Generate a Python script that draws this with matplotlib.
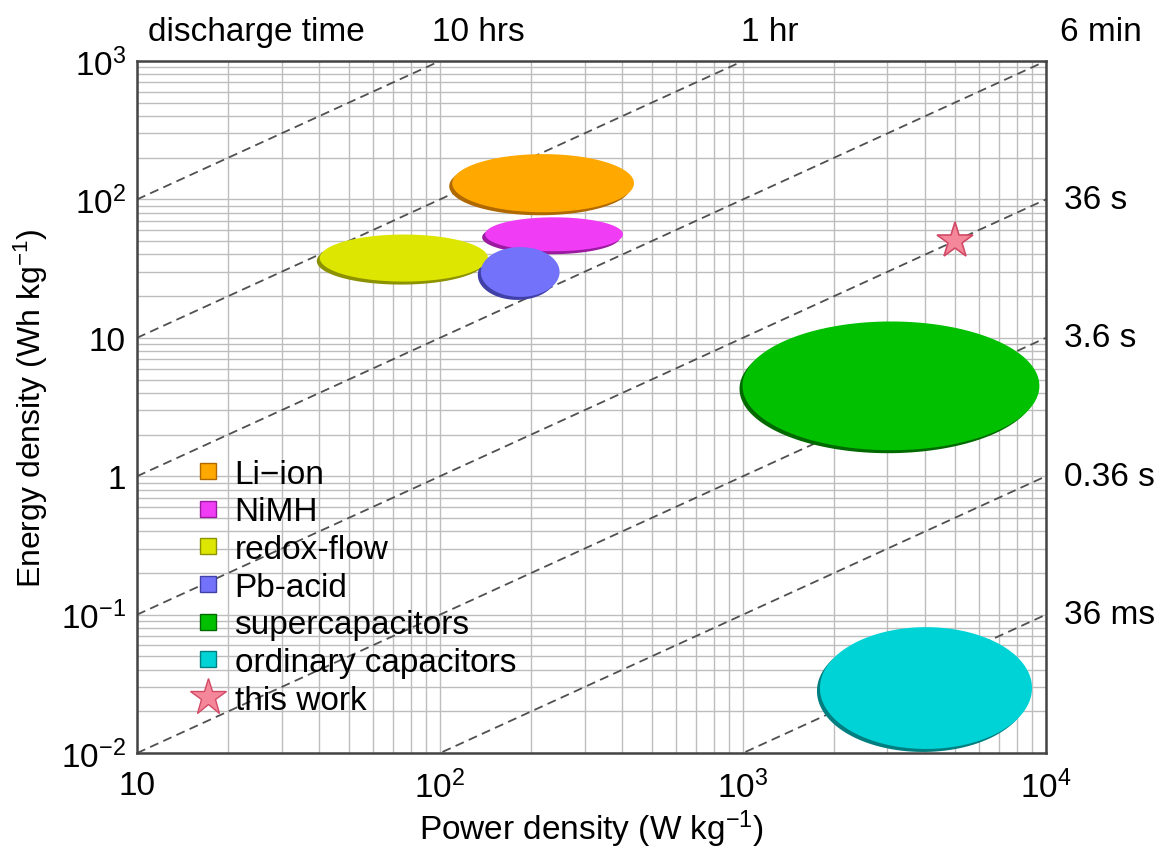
import numpy as np
import matplotlib
matplotlib.use("Agg")
import matplotlib.pyplot as plt
from matplotlib.lines import Line2D
from matplotlib.ticker import FixedLocator, FixedFormatter, LogLocator, NullFormatter

plt.rcParams["font.family"] = ["Liberation Sans", "DejaVu Sans"]
plt.rcParams["mathtext.fontset"] = "custom"
plt.rcParams["mathtext.rm"] = "Liberation Sans"
plt.rcParams["mathtext.it"] = "Liberation Sans"

# --- data (log-space ellipses) ---
tech_names = ["Li\u2212ion", "NiMH", "redox-flow", "Pb-acid", "supercapacitors", "ordinary capacitors"]
tech_colors = ["#FFA800", "#F03CF5", "#DDE600", "#7272FA", "#00C000", "#00D3D6"]
tech_shadow = ["#B06800", "#9A1AA0", "#8C9200", "#4040A8", "#006A00", "#007E80"]
center_power = [219, 238, 76, 184, 3080, 4020]        # W/kg
center_energy = [131, 56, 37.7, 29.9, 4.5, 0.0295]    # Wh/kg
width_decades = [0.60, 0.455, 0.555, 0.26, 0.98, 0.70]
height_decades = [0.42, 0.245, 0.34, 0.36, 0.93, 0.88]

star_power = 5000
star_energy = 50

# discharge time lines: E = t * P  (t in hours)
times_h = [10, 1, 0.1, 0.01, 0.001, 1e-4, 1e-5]
top_labels = ["10 hrs", "1 hr", "6 min"]
top_label_x = [134, 1230, 1.52e4]
right_labels = ["36 s", "3.6 s", "0.36 s", "36 ms"]
right_label_y = [100, 10, 1, 0.1]

x_ticks = [10, 100, 1000, 10000]
x_ticklabels = ["10", r"$\mathregular{10^{2}}$", r"$\mathregular{10^{3}}$", r"$\mathregular{10^{4}}$"]
y_ticks = [0.01, 0.1, 1, 10, 100, 1000]
y_ticklabels = [r"$\mathregular{10^{-2}}$", r"$\mathregular{10^{-1}}$", "1", "10",
                r"$\mathregular{10^{2}}$", r"$\mathregular{10^{3}}$"]

fig = plt.figure(figsize=(11.66, 8.54), dpi=100)
ax = fig.add_axes([0.1175, 0.117, 0.7795, 0.8104])
ax.set_xscale("log")
ax.set_yscale("log")
ax.set_xlim(10, 1e4)
ax.set_ylim(1e-2, 1e3)

# grid
ax.xaxis.set_minor_locator(LogLocator(base=10, subs=np.arange(2, 10)))
ax.yaxis.set_minor_locator(LogLocator(base=10, subs=np.arange(2, 10)))
ax.xaxis.set_minor_formatter(NullFormatter())
ax.yaxis.set_minor_formatter(NullFormatter())
ax.grid(True, which="both", color="#bdbdbd", lw=1.0)
ax.set_axisbelow(True)

# discharge-time diagonals
p = np.logspace(1, 4, 50)
for t in times_h:
    ax.plot(p, t * p, ls=(0, (5, 3)), color="#505050", lw=1.3, zorder=1)

# ellipses (built in log space)
theta = np.linspace(0, 2 * np.pi, 200)
dx_sh = -3 / 303.0
dy_sh = -3 / 138.4
for i in range(len(tech_names)):
    lx = np.log10(center_power[i]) + 0.5 * width_decades[i] * np.cos(theta)
    ly = np.log10(center_energy[i]) + 0.5 * height_decades[i] * np.sin(theta)
    ax.fill(10 ** (lx + dx_sh), 10 ** (ly + dy_sh), color=tech_shadow[i], lw=0, zorder=3)
    ax.fill(10 ** lx, 10 ** ly, color=tech_colors[i], lw=0, zorder=4)

ax.plot([star_power], [star_energy], marker="*", ms=27, color="#F4889A",
        mec="#D24A66", mew=1.2, ls="", zorder=6)

# axes styling
for s in ax.spines.values():
    s.set_color("#444444")
    s.set_linewidth(1.8)
ax.xaxis.set_major_locator(FixedLocator(x_ticks))
ax.xaxis.set_major_formatter(FixedFormatter(x_ticklabels))
ax.yaxis.set_major_locator(FixedLocator(y_ticks))
ax.yaxis.set_major_formatter(FixedFormatter(y_ticklabels))
ax.tick_params(which="both", length=0)
ax.tick_params(axis="x", labelsize=24, pad=12)
ax.tick_params(axis="y", labelsize=24, pad=8)
ax.set_xlabel("Power density (W kg$^{-1}$)", fontsize=24, labelpad=2)
ax.set_ylabel("Energy density (Wh kg$^{-1}$)", fontsize=23, labelpad=8)

# discharge time labels
ax.text(0.012, 1.02, "discharge time", transform=ax.transAxes, fontsize=24, va="bottom", ha="left")
for lab, xv in zip(top_labels, top_label_x):
    ax.annotate(lab, xy=(xv, 1e3), xycoords="data", xytext=(0, 10), textcoords="offset points",
                fontsize=24, ha="center", va="bottom", annotation_clip=False)
for lab, yv in zip(right_labels, right_label_y):
    ax.annotate(lab, xy=(1e4, yv), xycoords="data", xytext=(13, 0), textcoords="offset points",
                fontsize=24, ha="left", va="center", annotation_clip=False)

# legend
handles = [Line2D([], [], marker="s", ls="", ms=11, color=c, mec=s, mew=1.0)
           for c, s in zip(tech_colors, tech_shadow)]
handles.append(Line2D([], [], marker="*", ls="", ms=28, color="#F4889A", mec="#D24A66", mew=1.0))
leg = ax.legend(handles, tech_names + ["this work"], loc="lower left",
                bbox_to_anchor=(0.045, 0.035), frameon=False, fontsize=24,
                labelspacing=0.2, handletextpad=0.3, handlelength=1.0, borderaxespad=0)
leg.set_zorder(7)

fig.savefig("out.png", dpi=100)
